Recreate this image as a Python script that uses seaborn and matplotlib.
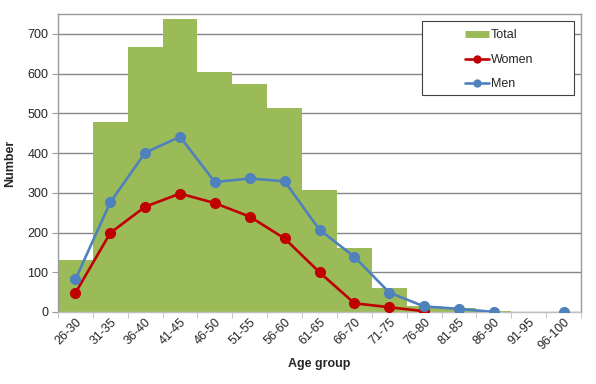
import numpy as np
import matplotlib
matplotlib.use("Agg")
import matplotlib.pyplot as plt
from matplotlib.lines import Line2D
from matplotlib.patches import Rectangle
from matplotlib.ticker import FixedLocator
import seaborn as sns

# values
age_groups = ["26-30", "31-35", "36-40", "41-45", "46-50", "51-55", "56-60",
              "61-65", "66-70", "71-75", "76-80", "81-85", "86-90", "91-95", "96-100"]
total = [130, 478, 667, 738, 603, 575, 514, 306, 161, 61, 16, 10, 2, 0, 1]
women = [48, 199, 265, 298, 274, 240, 185, 100, 22, 12, 2,
         np.nan, np.nan, np.nan, np.nan]
men = [82, 276, 401, 441, 327, 336, 329, 207, 139, 49, 14, 8, 0, np.nan, 0]

green = "#9BBB59"
red = "#C00000"
blue = "#4F81BD"
grid_col = "#868686"

sns.set_style("white")
plt.rcParams["font.family"] = ["Liberation Sans", "DejaVu Sans"]

fig = plt.figure(figsize=(5.96, 3.84), dpi=100)
ax = fig.add_axes([58 / 596, 1 - 312 / 384, 523 / 596, 298 / 384])

sns.barplot(x=age_groups, y=total, color=green, width=1.0, saturation=1,
            edgecolor="none", ax=ax, zorder=2)
ax.plot(age_groups, women, color=red, lw=1.9, marker="o", ms=7, zorder=3)
ax.plot(age_groups, men, color=blue, lw=1.9, marker="o", ms=7, zorder=4)

ax.set_ylim(0, 750)
ax.set_xlim(-0.5, len(age_groups) - 0.5)
ax.set_yticks(range(0, 701, 100))
ax.yaxis.grid(True, color=grid_col, lw=1)
ax.set_axisbelow(True)

for s in ["left", "top", "right"]:
    ax.spines[s].set_color("#9a9a9a")
    ax.spines[s].set_linewidth(1)
ax.spines["bottom"].set_color("#bfbfbf")
ax.spines["bottom"].set_linewidth(1)

ax.tick_params(axis="y", left=True, length=4, color="#9a9a9a", labelsize=9, pad=3)
ax.tick_params(axis="x", which="major", length=0, labelsize=9, pad=3)
ax.xaxis.set_minor_locator(FixedLocator(np.arange(-0.5, len(age_groups), 1)))
ax.tick_params(axis="x", which="minor", bottom=True, length=4, color="#bfbfbf")
plt.setp(ax.get_xticklabels(), rotation=45, ha="right", rotation_mode="anchor")

ax.set_xlabel("Age group", fontsize=9, fontweight="bold", labelpad=4)
ax.set_ylabel("Number", fontsize=9, fontweight="bold", labelpad=8)

# legend box (wider than its content, entries sit right of centre)
ax.add_patch(Rectangle((0.696, 0.728), 0.2906, 0.2485, transform=ax.transAxes,
                       facecolor="white", edgecolor="#404040", lw=0.8, zorder=5))
handles = [
    Line2D([], [], color=green, lw=5, solid_capstyle="butt"),
    Line2D([], [], color=red, lw=1.9, marker="o", ms=5),
    Line2D([], [], color=blue, lw=1.9, marker="o", ms=5),
]
leg = ax.legend(handles, ["Total", "Women", "Men"], loc="upper left",
                bbox_to_anchor=(0.778, 0.948), frameon=False,
                fontsize=9, handlelength=1.9, handletextpad=0.15,
                labelspacing=1.0, borderpad=0, borderaxespad=0)
leg.set_zorder(6)

fig.savefig("out.png", dpi=100)
